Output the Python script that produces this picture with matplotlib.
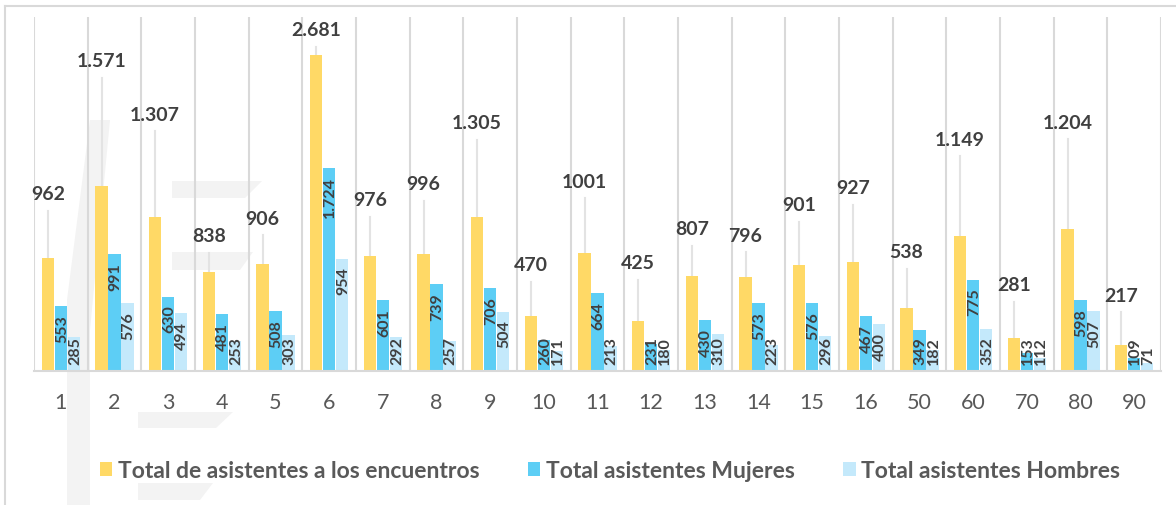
import matplotlib

matplotlib.use("Agg")
import matplotlib.pyplot as plt  # noqa: E402
from matplotlib.patches import Patch, Polygon  # noqa: E402

categories = ["1", "2", "3", "4", "5", "6", "7", "8", "9", "10", "11",
              "12", "13", "14", "15", "16", "50", "60", "70", "80", "90"]
total = [962, 1571, 1307, 838, 906, 2681, 976, 996, 1305, 470, 1001,
         425, 807, 796, 901, 927, 538, 1149, 281, 1204, 217]
mujeres = [553, 991, 630, 481, 508, 1724, 601, 739, 706, 260, 664,
           231, 430, 573, 576, 467, 349, 775, 153, 598, 109]
hombres = [285, 576, 494, 253, 303, 954, 292, 257, 504, 171, 213,
           180, 310, 223, 296, 400, 182, 352, 112, 507, 71]
total_text = ["962", "1.571", "1.307", "838", "906", "2.681", "976", "996",
              "1.305", "470", "1001", "425", "807", "796", "901", "927",
              "538", "1.149", "281", "1.204", "217"]
series_names = ["Total de asistentes a los encuentros",
                "Total asistentes Mujeres", "Total asistentes Hombres"]

# where the moved total labels sit (data units)
total_label_y = [1493, 2621, 2171, 1137, 1289, 2884, 1442, 1578, 2095, 891,
                 1603, 908, 1196, 1145, 1400, 1544, 1001, 1959, 721, 2103, 636]

YELLOW = "#FFD966"
BLUE = "#5DCEF5"
LIGHT = "#C4E9FB"
GRID = "#D9D9D9"
FONT = "Lato"

W, H = 1176, 505
fig = plt.figure(figsize=(W / 100, H / 100), dpi=100)

# background: frame and faint watermark, in pixel coordinates
bg = fig.add_axes([0, 0, 1, 1], zorder=0)
bg.set_xlim(0, W)
bg.set_ylim(H, 0)
bg.axis("off")
wm = "#F3F3F3"
for pts in (
    [(172, 181), (262, 181), (245, 198), (172, 198)],
    [(172, 252), (253, 252), (240, 270), (172, 270)],
    [(138, 412), (233, 412), (216, 428), (138, 428)],
    [(138, 483), (213, 483), (200, 500), (138, 500)],
    [(90, 120), (110, 120), (90, 330), (90, 505), (67, 505), (67, 300)],
):
    bg.add_patch(Polygon(pts, closed=True, facecolor=wm, edgecolor="none"))
bg.plot([5, W], [6, 6], color=GRID, lw=1.5)
bg.plot([5, 5], [6, H], color=GRID, lw=1.5)

base_px, top_px, left_px, right_px = 371, 17.3, 34, 1161
ax = fig.add_axes([left_px / W, (H - base_px) / H, (right_px - left_px) / W,
                   (base_px - top_px) / H], zorder=1)
ax.patch.set_visible(False)
ymax = 3000
units_per_px = ymax / (base_px - top_px)
ax.set_ylim(0, ymax)
ax.set_xlim(-0.5, len(categories) - 0.5)

for b in range(len(categories) + 1):
    ax.axvline(b - 0.5, color=GRID, lw=1.5, zorder=0)

x = list(range(len(categories)))
step, width = 0.242, 0.228
ax.bar([i - step for i in x], total, width, color=YELLOW, zorder=2)
ax.bar(x, mujeres, width, color=BLUE, zorder=2)
ax.bar([i + step for i in x], hombres, width, color=LIGHT, zorder=2)

# totals: moved labels with leader lines
for i, (v, ly, t) in enumerate(zip(total, total_label_y, total_text)):
    ax.plot([i - step, i - step], [v, ly - 16 * units_per_px], color="#E3E3E3",
            lw=1.5, zorder=1)
    ax.text(i - step, ly, t, ha="center", va="center", fontsize=14,
            fontweight="bold", color="#404040", family=FONT, zorder=3)

# rotated labels inside the blue bars
pad = 9 * units_per_px
floor = 6 * units_per_px
for offset, values in ((0, mujeres), (step, hombres)):
    for i, v in enumerate(values):
        s = f"{v:,}".replace(",", ".")
        length = (len(s) * 9.3) * units_per_px
        top = max(v - pad, floor + length)
        ax.text(i + offset + 0.02, top, s, rotation=90, ha="center", va="top",
                fontsize=11.5, fontweight="bold", color="#404040",
                family=FONT, zorder=3)

for side in ("left", "right", "top"):
    ax.spines[side].set_visible(False)
ax.spines["bottom"].set_color(GRID)
ax.spines["bottom"].set_linewidth(1.5)
ax.set_yticks([])
ax.set_xticks(x)
ax.set_xticklabels(categories, fontsize=15.5, color="#595959", family=FONT)
ax.tick_params(axis="x", length=0, pad=16)

handles = [Patch(facecolor=c, edgecolor="none") for c in (YELLOW, BLUE, LIGHT)]
fig.legend(handles, series_names, loc="center", ncol=3, frameon=False,
           bbox_to_anchor=(610 / W, 1 - 471 / H), handlelength=0.55,
           handleheight=0.55, handletextpad=0.25, columnspacing=2.1,
           prop={"family": FONT, "weight": "bold", "size": 16.5},
           labelcolor="#595959")

fig.savefig("out.png", dpi=100, facecolor="white")
